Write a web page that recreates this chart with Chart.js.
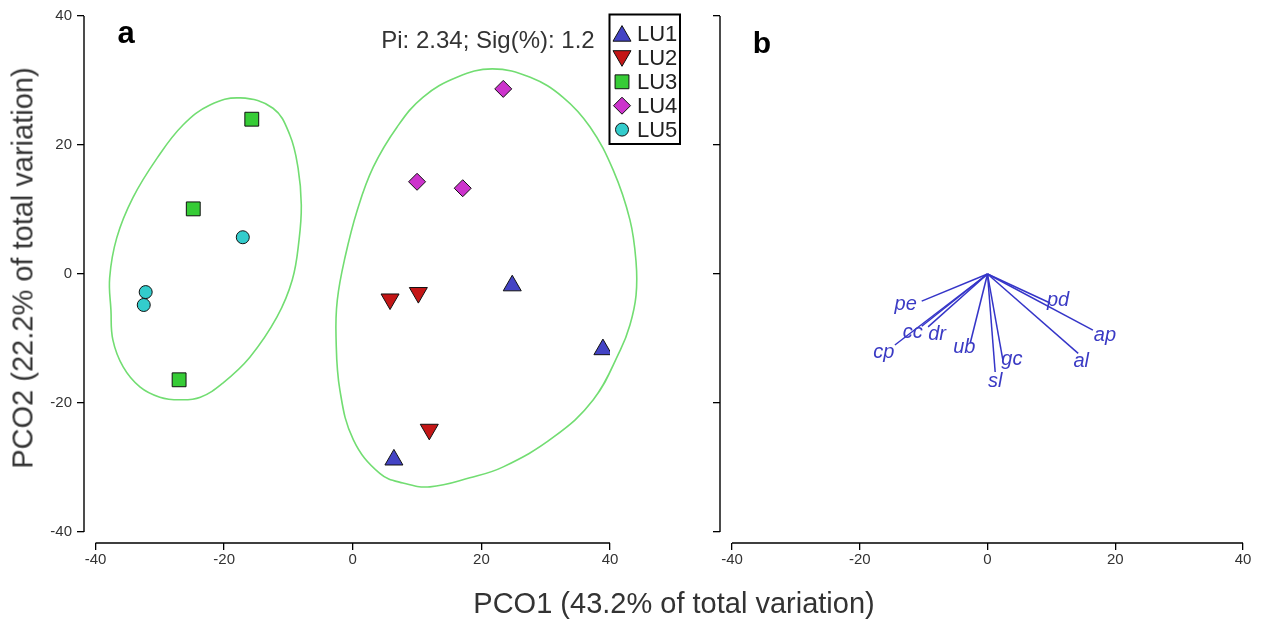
<!DOCTYPE html>
<html><head><meta charset="utf-8">
<script src="https://cdn.jsdelivr.net/npm/chart.js@4.4.1/dist/chart.umd.min.js"></script>
<style>
html,body{margin:0;padding:0;background:#fff;}
#wrap{position:relative;width:1275px;height:626px;overflow:hidden;font-family:"Liberation Sans",Arial,sans-serif;}
canvas{position:absolute;left:0;top:0;}
.t{position:absolute;white-space:nowrap;line-height:1;transform:translate(-50%,-50%);color:#333;}
</style></head><body>
<div id="wrap">
<canvas id="cA" width="1275" height="626"></canvas>
<canvas id="cB" width="1275" height="626"></canvas>
<div class="t" style="left:674px;top:603px;font-size:29px;">PCO1 (43.2% of total variation)</div>
<div class="t" style="left:23px;top:268px;font-size:29px;transform:translate(-50%,-50%) rotate(-90deg);">PCO2 (22.2% of total variation)</div>
<div class="t" style="left:126px;top:32px;font-size:31px;font-weight:bold;color:#000;">a</div>
<div class="t" style="left:762px;top:43px;font-size:30px;font-weight:bold;color:#000;">b</div>
<div class="t" style="left:488px;top:40px;font-size:24px;">Pi: 2.34; Sig(%): 1.2</div>
</div>
<script>
// ---------- data ----------
const groups = ['LU1', 'LU2', 'LU3', 'LU4', 'LU5'];
const lu1X = [24.8, 38.9, 6.4];    const lu1Y = [-1.8, -11.7, -28.8];
const lu2X = [5.8, 10.2, 11.9];    const lu2Y = [-3.9, -2.9, -24.1];
const lu3X = [-15.7, -24.8, -27.0]; const lu3Y = [24.0, 10.1, -16.4];
const lu4X = [23.4, 10.0, 17.1];   const lu4Y = [28.7, 14.3, 13.3];
const lu5X = [-17.1, -32.2, -32.5]; const lu5Y = [5.7, -2.8, -4.8];

// cluster outlines (data units, clockwise from the top)
const hull1X = [-17.5, -12.4, -9.8, -8.5, -8.0, -8.35, -9.4, -11.8, -16.0, -20.2, -23.7, -26.9, -30.0, -33.1, -35.7, -37.3, -37.6, -37.8, -36.7, -34.2, -30.4, -26.4, -22.2];
const hull1Y = [27.3, 25.7, 21.6, 16.4, 10.7, 5.3, -0.9, -6.7, -12.9, -16.9, -19.1, -19.5, -19.1, -17.5, -14.4, -10.2, -5.6, -0.6, 5.6, 11.8, 18.0, 23.1, 26.2];
const hull2X = [21.7, 27.6, 32.7, 36.9, 40.5, 43.1, 44.05, 44.05, 43.1, 41.6, 37.4, 31.2, 23.4, 18.2, 12.0, 7.8, 4.2, 0.1, -2.0, -2.6, -2.4, -1.2, 0.7, 3.2, 6.9, 10.9, 16.2];
const hull2Y = [31.8, 30.5, 27.4, 22.8, 16.1, 8.4, 1.9, -3.3, -7.9, -11.8, -19.5, -25.3, -29.9, -31.6, -33.0, -32.4, -30.9, -25.7, -18.0, -9.8, -4.0, 2.6, 9.9, 16.6, 22.8, 27.4, 30.5];

// vectors (panel b)
const varNames = ['pe', 'cp', 'cc', 'dr', 'ub', 'sl', 'gc', 'al', 'ap', 'pd'];
const varX = [-10.3, -14.5, -10.3, -9.3, -2.7, 1.2, 2.4, 14.2, 16.5, 9.8];
const varY = [-4.2, -11.0, -8.1, -8.2, -10.7, -15.2, -13.3, -12.3, -8.7, -4.5];

const tickVals = [-40, -20, 0, 20, 40];

// ---------- styles ----------
const labelOffsets = [[-16, 3], [-11, 7], [-9, 6], [9, 8], [-6, 4], [0, 9], [9, 0], [3, 8], [12, 5], [8, -3]];
const styles = [
  { pointStyle: 'triangle', rotation: 0,   radius: 10.4, color: '#4343c4' },
  { pointStyle: 'triangle', rotation: 180, radius: 10.4, color: '#c41616' },
  { pointStyle: 'rect',     rotation: 0,   radius: 9.8,  color: '#36cc36' },
  { pointStyle: 'rectRot',  rotation: 0,   radius: 8.5,  color: '#cc33cc' },
  { pointStyle: 'circle',   rotation: 0,   radius: 6.5,  color: '#33cccc' }
];
const FONT = '"Liberation Sans", Arial, sans-serif';
const hullColor = '#72dd72';
const vecColor = '#3535c8';

const seriesX = [lu1X, lu2X, lu3X, lu4X, lu5X];
const seriesY = [lu1Y, lu2Y, lu3Y, lu4Y, lu5Y];

function pts(xs, ys) { return xs.map((x, i) => ({ x: x, y: ys[i] })); }
function closed(xs, ys) {
  const p = pts(xs, ys);
  return [p[p.length - 1]].concat(p, [p[0], p[1]]);
}

function hullDataset(xs, ys) {
  const data = closed(xs, ys);
  const last = data.length - 1;
  return {
    data: data, showLine: true, tension: 0.4, pointRadius: 0, pointHoverRadius: 0,
    borderColor: hullColor, borderWidth: 1.6, fill: false, order: 5, clip: false,
    segment: { borderColor: c => (c.p0DataIndex === 0 || c.p1DataIndex === last) ? 'rgba(0,0,0,0)' : hullColor }
  };
}

function setTicks(s) { s.ticks = tickVals.map(v => ({ value: v })); }

function axisLines(chart) {
  const ctx = chart.ctx, a = chart.chartArea;
  const xs = chart.scales.x, ys = chart.scales.y;
  ctx.save();
  ctx.strokeStyle = '#000';
  ctx.lineWidth = 1.4;
  ctx.beginPath();
  ctx.moveTo(xs.getPixelForValue(-40), a.bottom);
  ctx.lineTo(xs.getPixelForValue(40), a.bottom);
  ctx.moveTo(a.left, ys.getPixelForValue(40));
  ctx.lineTo(a.left, ys.getPixelForValue(-40));
  ctx.stroke();
  ctx.restore();
}

function drawMarker(ctx, st, x, y) {
  ctx.save();
  ctx.fillStyle = st.color;
  ctx.strokeStyle = '#111';
  ctx.lineWidth = 1;
  if (Chart.helpers && Chart.helpers.drawPoint) {
    Chart.helpers.drawPoint(ctx, { pointStyle: st.pointStyle, rotation: st.rotation, radius: st.radius, borderWidth: 1 }, x, y);
  }
  ctx.restore();
}

const legendPlugin = {
  id: 'customLegend',
  afterDraw(chart) {
    axisLines(chart);
    const ctx = chart.ctx;
    ctx.save();
    ctx.strokeStyle = '#000';
    ctx.lineWidth = 2;
    ctx.strokeRect(609.5, 14.5, 70.5, 129.5);
    ctx.font = '22px ' + FONT;
    ctx.fillStyle = '#222';
    ctx.textBaseline = 'middle';
    ctx.textAlign = 'left';
    groups.forEach((g, i) => {
      const y = 34 + i * 23.9;
      const st = styles[i];
      const dy = st.pointStyle === 'triangle' ? (st.rotation ? -2 : 2) : 0;
      drawMarker(ctx, st, 622, y + dy);
      ctx.fillText(g, 637, y + 1);
    });
    ctx.restore();
  }
};

const vecLabelPlugin = {
  id: 'vecLabels',
  afterDraw(chart) {
    axisLines(chart);
    const ctx = chart.ctx;
    const xs = chart.scales.x, ys = chart.scales.y;
    ctx.save();
    ctx.font = 'italic 20px ' + FONT;
    ctx.fillStyle = '#3a3ac4';
    ctx.textAlign = 'center';
    ctx.textBaseline = 'middle';
    varNames.forEach((n, i) => {
      const px = xs.getPixelForValue(varX[i]) + labelOffsets[i][0];
      const py = ys.getPixelForValue(varY[i]) + labelOffsets[i][1];
      ctx.fillText(n, px, py);
    });
    ctx.restore();
  }
};

function commonScales(xMin, yWidth, showYLabels) {
  return {
    x: {
      type: 'linear', min: xMin, max: 40,
      afterBuildTicks: setTicks,
      afterFit: s => { s.height = 83; },
      grid: { drawOnChartArea: false, drawTicks: true, tickLength: 7, color: '#000', lineWidth: 1.3 },
      border: { display: false },
      ticks: { font: { family: FONT, size: 15 }, color: '#333', padding: 1, maxRotation: 0, autoSkip: false }
    },
    y: {
      type: 'linear', min: -41.7, max: 40,
      afterBuildTicks: setTicks,
      afterFit: s => { s.width = yWidth; },
      grid: { drawOnChartArea: false, drawTicks: true, tickLength: 7, color: '#000', lineWidth: 1.3 },
      border: { display: false },
      ticks: { display: showYLabels, font: { family: FONT, size: 15 }, color: '#333', padding: 5, autoSkip: false }
    }
  };
}

const baseOpts = {
  responsive: false, maintainAspectRatio: false, animation: false, events: [],
  elements: { line: { capBezierPoints: false } },
  plugins: { legend: { display: false }, tooltip: { enabled: false }, title: { display: false } }
};

// ---------- panel a ----------
const pointSets = groups.map((g, i) => ({
  label: g,
  data: pts(seriesX[i], seriesY[i]),
  pointStyle: styles[i].pointStyle,
  rotation: styles[i].rotation,
  pointRadius: styles[i].radius,
  pointBackgroundColor: styles[i].color,
  pointBorderColor: '#111',
  pointBorderWidth: 1,
  showLine: false,
  order: 1
}));

new Chart(document.getElementById('cA'), {
  type: 'scatter',
  data: { datasets: pointSets.concat([hullDataset(hull1X, hull1Y), hullDataset(hull2X, hull2Y)]) },
  options: Object.assign({}, baseOpts, {
    layout: { padding: { left: 0, top: 16, right: 665, bottom: 0 } },
    scales: commonScales(-41.79, 84, true)
  }),
  plugins: [legendPlugin]
});

// ---------- panel b ----------
const vecSets = varNames.map((n, i) => ({
  label: n,
  data: [{ x: 0, y: 0 }, { x: varX[i], y: varY[i] }],
  showLine: true, pointRadius: 0, pointHoverRadius: 0,
  borderColor: vecColor, borderWidth: 1.5, tension: 0
}));

new Chart(document.getElementById('cB'), {
  type: 'scatter',
  data: { datasets: vecSets },
  options: Object.assign({}, baseOpts, {
    layout: { padding: { left: 710, top: 16, right: 32, bottom: 0 } },
    scales: commonScales(-41.88, 10, false)
  }),
  plugins: [vecLabelPlugin]
});
</script>
</body></html>
